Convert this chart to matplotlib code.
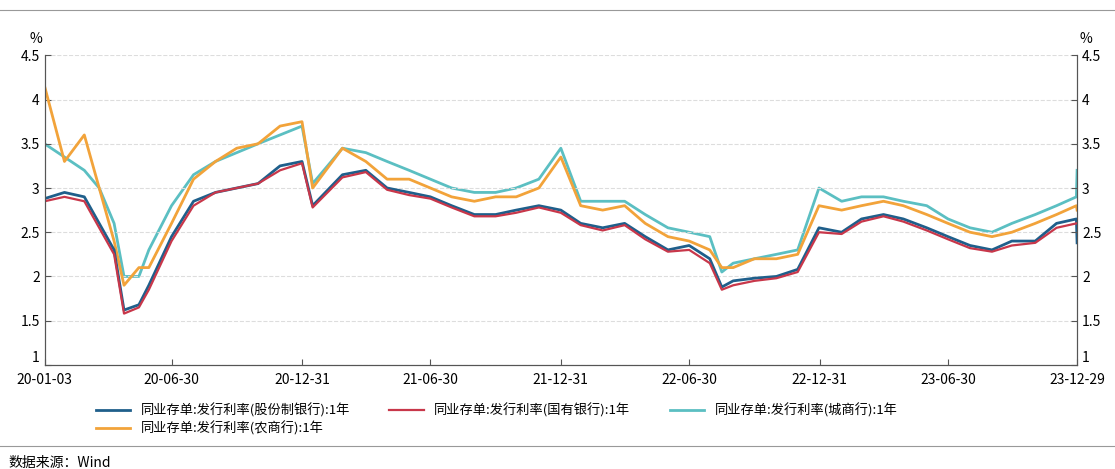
import matplotlib.pyplot as plt
import matplotlib.dates as mdates
import pandas as pd

plt.rcParams['font.family'] = ['Noto Sans CJK SC', 'DejaVu Sans']

dates = ['2020-01-03', '2020-01-31', '2020-02-28', '2020-03-20', '2020-04-10', '2020-04-24', '2020-05-15',
         '2020-05-29', '2020-06-30', '2020-07-31', '2020-08-31', '2020-09-30', '2020-10-30', '2020-11-30',
         '2020-12-31', '2021-01-15', '2021-02-26', '2021-03-31', '2021-04-30', '2021-05-31', '2021-06-30',
         '2021-07-30', '2021-08-31', '2021-09-30', '2021-10-29', '2021-11-30', '2021-12-31', '2022-01-28',
         '2022-02-28', '2022-03-31', '2022-04-29', '2022-05-31', '2022-06-30', '2022-07-29', '2022-08-15',
         '2022-08-31', '2022-09-30', '2022-10-31', '2022-11-30', '2022-12-30', '2023-01-31', '2023-02-28',
         '2023-03-31', '2023-04-28', '2023-05-31', '2023-06-30', '2023-07-31', '2023-08-31', '2023-09-28',
         '2023-10-31', '2023-11-30', '2023-12-28', '2023-12-29']
joint_stock = [2.88, 2.95, 2.9, 2.6, 2.3, 1.62, 1.68, 1.9, 2.45, 2.85, 2.95, 3.0, 3.05, 3.25,
               3.3, 2.8, 3.15, 3.2, 3.0, 2.95, 2.9, 2.8, 2.7, 2.7, 2.75, 2.8, 2.75, 2.6,
               2.55, 2.6, 2.45, 2.3, 2.35, 2.2, 1.88, 1.95, 1.98, 2.0, 2.08, 2.55, 2.5, 2.65,
               2.7, 2.65, 2.55, 2.45, 2.35, 2.3, 2.4, 2.4, 2.6, 2.65, 2.38]
state_owned = [2.85, 2.9, 2.85, 2.55, 2.25, 1.58, 1.65, 1.85, 2.4, 2.8, 2.95, 3.0, 3.05, 3.2,
               3.28, 2.78, 3.12, 3.18, 2.98, 2.92, 2.88, 2.78, 2.68, 2.68, 2.72, 2.78, 2.72, 2.58,
               2.52, 2.58, 2.42, 2.28, 2.3, 2.15, 1.85, 1.9, 1.95, 1.98, 2.05, 2.5, 2.48, 2.62,
               2.68, 2.62, 2.52, 2.42, 2.32, 2.28, 2.35, 2.38, 2.55, 2.6, 2.6]
city_comm = [3.5, 3.35, 3.2, 3.0, 2.6, 2.0, 2.0, 2.3, 2.8, 3.15, 3.3, 3.4, 3.5, 3.6,
             3.7, 3.05, 3.45, 3.4, 3.3, 3.2, 3.1, 3.0, 2.95, 2.95, 3.0, 3.1, 3.45, 2.85,
             2.85, 2.85, 2.7, 2.55, 2.5, 2.45, 2.05, 2.15, 2.2, 2.25, 2.3, 3.0, 2.85, 2.9,
             2.9, 2.85, 2.8, 2.65, 2.55, 2.5, 2.6, 2.7, 2.8, 2.9, 3.2]
rural_comm = [4.15, 3.3, 3.6, 3.0, 2.4, 1.9, 2.1, 2.1, 2.6, 3.1, 3.3, 3.45, 3.5, 3.7,
              3.75, 3.0, 3.45, 3.3, 3.1, 3.1, 3.0, 2.9, 2.85, 2.9, 2.9, 3.0, 3.35, 2.8,
              2.75, 2.8, 2.6, 2.45, 2.4, 2.3, 2.1, 2.1, 2.2, 2.2, 2.25, 2.8, 2.75, 2.8,
              2.85, 2.8, 2.7, 2.6, 2.5, 2.45, 2.5, 2.6, 2.7, 2.8, 2.75]

names = ['同业存单:发行利率(股份制银行):1年', '同业存单:发行利率(国有银行):1年',
         '同业存单:发行利率(城商行):1年', '同业存单:发行利率(农商行):1年']
colors = ['#1f5f8b', '#c8374a', '#5bbfc2', '#f2a33a']
tick_dates = ['2020-01-03', '2020-06-30', '2020-12-31', '2021-06-30', '2021-12-31',
              '2022-06-30', '2022-12-31', '2023-06-30', '2023-12-29']
ylabels = ['1', '1.5', '2', '2.5', '3', '3.5', '4', '4.5']

x = pd.to_datetime(dates)
fig = plt.figure(figsize=(11.15, 4.69), dpi=100)
ax = fig.add_axes([0.04, 0.222, 0.926, 0.66])
l3, = ax.plot(x, rural_comm, color=colors[3], lw=2, label=names[3], zorder=2)
l2, = ax.plot(x, city_comm, color=colors[2], lw=2, label=names[2], zorder=1)
l0, = ax.plot(x, joint_stock, color=colors[0], lw=2, label=names[0], zorder=3)
l1, = ax.plot(x, state_owned, color=colors[1], lw=1.6, label=names[1], zorder=4)

ax.set_ylim(1, 4.5)
ax.set_xlim(pd.Timestamp('2020-01-03'), pd.Timestamp('2023-12-29'))
ax.set_yticks([1, 1.5, 2, 2.5, 3, 3.5, 4, 4.5])
ax.set_yticklabels(ylabels)
ax.yaxis.grid(True, color='#dddddd', ls='--', lw=0.8)
ax.set_xticks(pd.to_datetime(tick_dates))
ax.xaxis.set_major_formatter(mdates.DateFormatter('%y-%m-%d'))
ax2 = ax.twinx()
ax2.set_ylim(1, 4.5)
ax2.set_yticks([1, 1.5, 2, 2.5, 3, 3.5, 4, 4.5])
ax2.set_yticklabels(ylabels)
for a in (ax, ax2):
    a.tick_params(labelsize=10, direction='in', length=4, color='#555555')
    a.spines['top'].set_visible(False)
    for s in ['left', 'right', 'bottom']:
        a.spines[s].set_color('#555555')
ax.tick_params(axis='x', pad=6)
for t in ax.get_yticklabels() + ax2.get_yticklabels():
    if t.get_text() == '1':
        t.set_va('bottom')
ax.text(-0.002, 1.04, '%', transform=ax.transAxes, fontsize=10, ha='right')
ax.text(1.002, 1.04, '%', transform=ax.transAxes, fontsize=10, ha='left')

fig.legend([l0, l3, l1, l2], [names[0], names[3], names[1], names[2]], loc='upper left',
           bbox_to_anchor=(0.075, 0.165), ncol=3, frameon=False, fontsize=9.5,
           handlelength=2.6, columnspacing=3, labelspacing=0.3)
fig.add_artist(plt.Line2D([0, 1], [0.978, 0.978], color='#999999', lw=0.8))
fig.add_artist(plt.Line2D([0, 1], [0.05, 0.05], color='#999999', lw=0.8))
fig.text(0.008, 0.005, '数据来源：Wind', fontsize=10)
fig.savefig('out.png')
